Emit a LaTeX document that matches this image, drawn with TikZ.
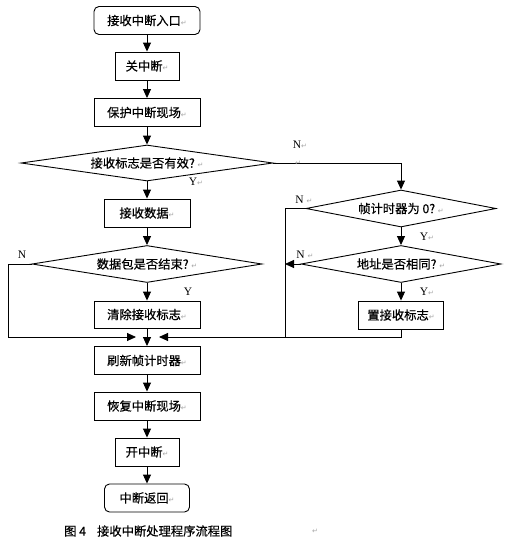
\documentclass[tikz,border=0pt]{standalone}
\usepackage{fontspec}
\setmainfont{Liberation Serif}
\newfontfamily\cjk[FakeBold=0.4]{Noto Sans CJK SC}
\newfontfamily\mrk{DejaVu Sans}
\usetikzlibrary{shapes.geometric,arrows.meta}
\newcommand{\retmark}{{\mrk\fontsize{7}{7}\selectfont\color{gray!70}↵}}
\begin{document}
\begin{tikzpicture}[x=1pt,y=-1pt,
  cjkfont/.style={font=\cjk\fontsize{12.3}{13}\selectfont},
  proc/.style={draw, line width=0.9pt, cjkfont, minimum height=28pt, inner sep=0pt},
  term/.style={proc, rounded corners=5pt},
  dec/.style={draw, diamond, line width=0.9pt, inner sep=0pt, aspect=6, cjkfont},
  arr/.style={-{Triangle[length=9pt,width=8pt]}, line width=0.9pt},
  ln/.style={line width=0.9pt},
  lbl/.style={font=\fontsize{11.5}{12}\selectfont, inner sep=0pt}]
\useasboundingbox (0,0) rectangle (511,546);
\fill[white] (0,0) rectangle (511,546);
% main column
\node[term, minimum width=106pt] (start) at (147,20.5) {接收中断入口\retmark};
\node[proc, minimum width=64pt] (off) at (147,66) {关中断\retmark};
\node[proc, minimum width=106pt] (save) at (147,112.5) {保护中断现场\retmark};
\node[dec, minimum width=252pt, minimum height=36pt] (d1) at (147,163) {接收标志是否有效?\ \retmark};
\node[proc, minimum width=86pt] (recv) at (147,213) {接收数据\retmark};
\node[dec, minimum width=230pt, minimum height=37pt] (d4) at (147,264) {数据包是否结束?\ \retmark};
\node[proc, minimum width=106pt, minimum height=27pt] (clr) at (147,314.5) {清除接收标志\retmark};
\node[proc, minimum width=106pt] (ref) at (147,360.5) {刷新帧计时器\retmark};
\node[proc, minimum width=106pt] (rest) at (147,406) {恢复中断现场\retmark};
\node[proc, minimum width=64pt] (on) at (147,452) {开中断\retmark};
\node[term, minimum width=85pt] (ret) at (147,498) {中断返回\retmark};
% right column
\node[dec, minimum width=190pt, minimum height=37pt] (d2) at (401,208.5) {帧计时器为 0?\ \retmark};
\node[dec, minimum width=200pt, minimum height=37pt] (d3) at (401,264) {地址是否相同?\ \retmark};
\node[proc, minimum width=85pt] (set) at (401,315) {置接收标志\retmark};
% coordinates
\coordinate (mL) at (136,337);
\coordinate (mR) at (159,337);
\coordinate (cL) at (8,337);
\coordinate (cR) at (285,337);
% connectors
\draw[arr] (start) -- (off);
\draw[arr] (off) -- (save);
\draw[arr] (save) -- (d1);
\draw[arr] (d1) -- (recv);
\draw[arr] (recv) -- (d4);
\draw[arr] (d4) -- (clr);
\draw[arr] (clr) -- (ref);
\draw[arr] (ref) -- (rest);
\draw[arr] (rest) -- (on);
\draw[arr] (on) -- (ret);
\draw[arr] (d1.east) -| (d2.north);
\draw[arr] (d2) -- (d3);
\draw[arr] (d3) -- (set);
\draw[arr] (d2.west) -| (cR) -- (mR);
\draw[arr] (d3.west) -- (d3.west -| cR);
\draw[ln] (set.south) |- (cR);
\draw[arr] (d4.west) -| (cL) -- (mL);
% labels
\node[lbl] at (300,145) {N\retmark};
\node[lbl] at (298,163) {\retmark};
\node[lbl] at (196,182) {Y\retmark};
\node[lbl] at (304,200) {N\ \retmark};
\node[lbl] at (427,237) {Y\retmark};
\node[lbl] at (305,255) {N\ \retmark};
\node[lbl] at (427,292) {Y\retmark};
\node[lbl] at (22,255) {N};
\node[lbl] at (188,292) {Y};
% caption
\node[cjkfont, anchor=west, inner sep=0pt] (cap) at (64,531) {图 4\hspace{11pt}接收中断处理程序流程图};
\node[lbl] at (315,531) {\retmark};
\end{tikzpicture}
\end{document}
